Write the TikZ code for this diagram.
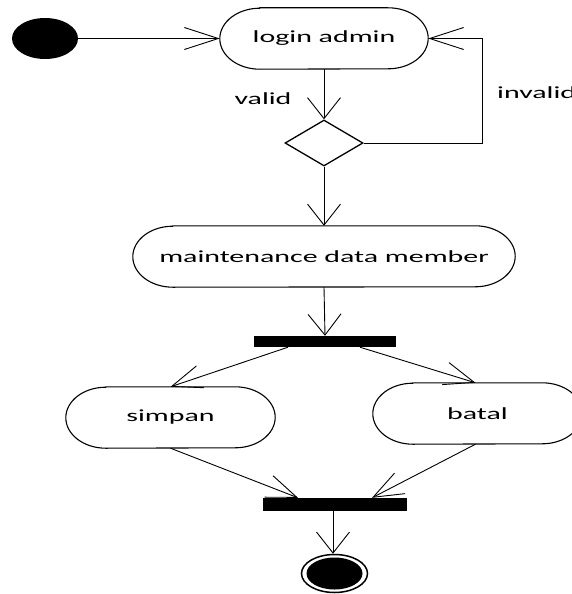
\documentclass[tikz,border=0pt]{standalone}
\usepackage{fontspec}
\setmainfont{Carlito}
\usepackage{graphicx}
\usetikzlibrary{arrows.meta,shapes.geometric}
\newcommand{\wt}[1]{\scalebox{1.76}[1]{#1}}
\newcommand{\stad}[1]{\draw[shapeline] ([xshift=40pt]#1.north west) -- ([xshift=-40pt]#1.north east) arc[start angle=90,end angle=-90,x radius=40pt,y radius=30.5pt] -- ([xshift=40pt]#1.south west) arc[start angle=270,end angle=90,x radius=40pt,y radius=30.5pt] -- cycle;}
\tikzset{
  lbl/.style={font=\fontsize{17}{20}\selectfont, inner sep=0pt},
  act/.style={lbl, minimum height=61pt, minimum width=#1, inner sep=0pt},
  shapeline/.style={line width=1.1pt},
  conn/.style={line width=0.9pt},
  varrow/.style={conn, -{Straight Barb[length=21pt,width=33pt]}},
  harrow/.style={conn, -{Straight Barb[length=34pt,width=22pt]}},
  darrow/.style={conn, -{Straight Barb[length=30pt,width=23pt]}},
  bar/.style={fill=black, inner sep=0pt, minimum width=#1},
}
\begin{document}
\begin{tikzpicture}[x=1pt,y=1pt]
\useasboundingbox (0,0) rectangle (572,-594);
\clip (0,0) rectangle (572,-594);
% nodes
\node[ellipse, fill=black, minimum width=66pt, minimum height=41pt, inner sep=0pt] (start) at (45,-38.5) {};
\node[act=208pt] (login) at (324,-38.5) {\wt{login admin}};
\stad{login}
\node[lbl] (valid) at (263,-99) {\wt{valid}};
\node[diamond, draw, line width=1.3pt, minimum width=78pt, minimum height=46pt, inner sep=0pt] (dia) at (324,-143) {};
\node[lbl, anchor=west] (invalid) at (497,-93) {\wt{invalid}};
\node[act=382pt] (maint) at (324,-256.5) {\wt{maintenance data member}};
\stad{maint}
\node[bar=142pt, minimum height=11pt] (fork) at (325,-341.5) {};
\node[act=209pt] (simpan) at (170.5,-417.5) {\wt{simpan}};
\stad{simpan}
\node[act=209pt] (batal) at (477.5,-413.5) {\wt{batal}};
\stad{batal}
\node[bar=144pt, minimum height=13pt] (join) at (335,-504.5) {};
\node[ellipse, draw, line width=1.5pt, minimum width=66pt, minimum height=38pt, inner sep=0pt] (end) at (334.5,-573.5) {};
\fill (end.center) ellipse[x radius=28pt, y radius=16pt];
% connectors
\draw[harrow] (start.east) -- (login.west);
\draw[varrow] (login.south) -- (dia.north);
\draw[harrow] (dia.east) -- ++(119,0) |- (login.east);
\draw[varrow] (dia.south) -- (maint.north);
\draw[varrow] (maint.south) -- (fork.north);
\draw[darrow] ([xshift=-37pt]fork.south) -- (simpan.north);
\draw[darrow] ([xshift=35pt]fork.south) -- ([xshift=-2pt]batal.north);
\draw[darrow] (simpan.south) -- ([xshift=-37pt]join.north);
\draw[darrow] ([xshift=-2pt]batal.south) -- ([xshift=37pt]join.north);
\draw[varrow] ([xshift=-2pt]join.south) -- ([xshift=-1.5pt]end.north);
\end{tikzpicture}
\end{document}
